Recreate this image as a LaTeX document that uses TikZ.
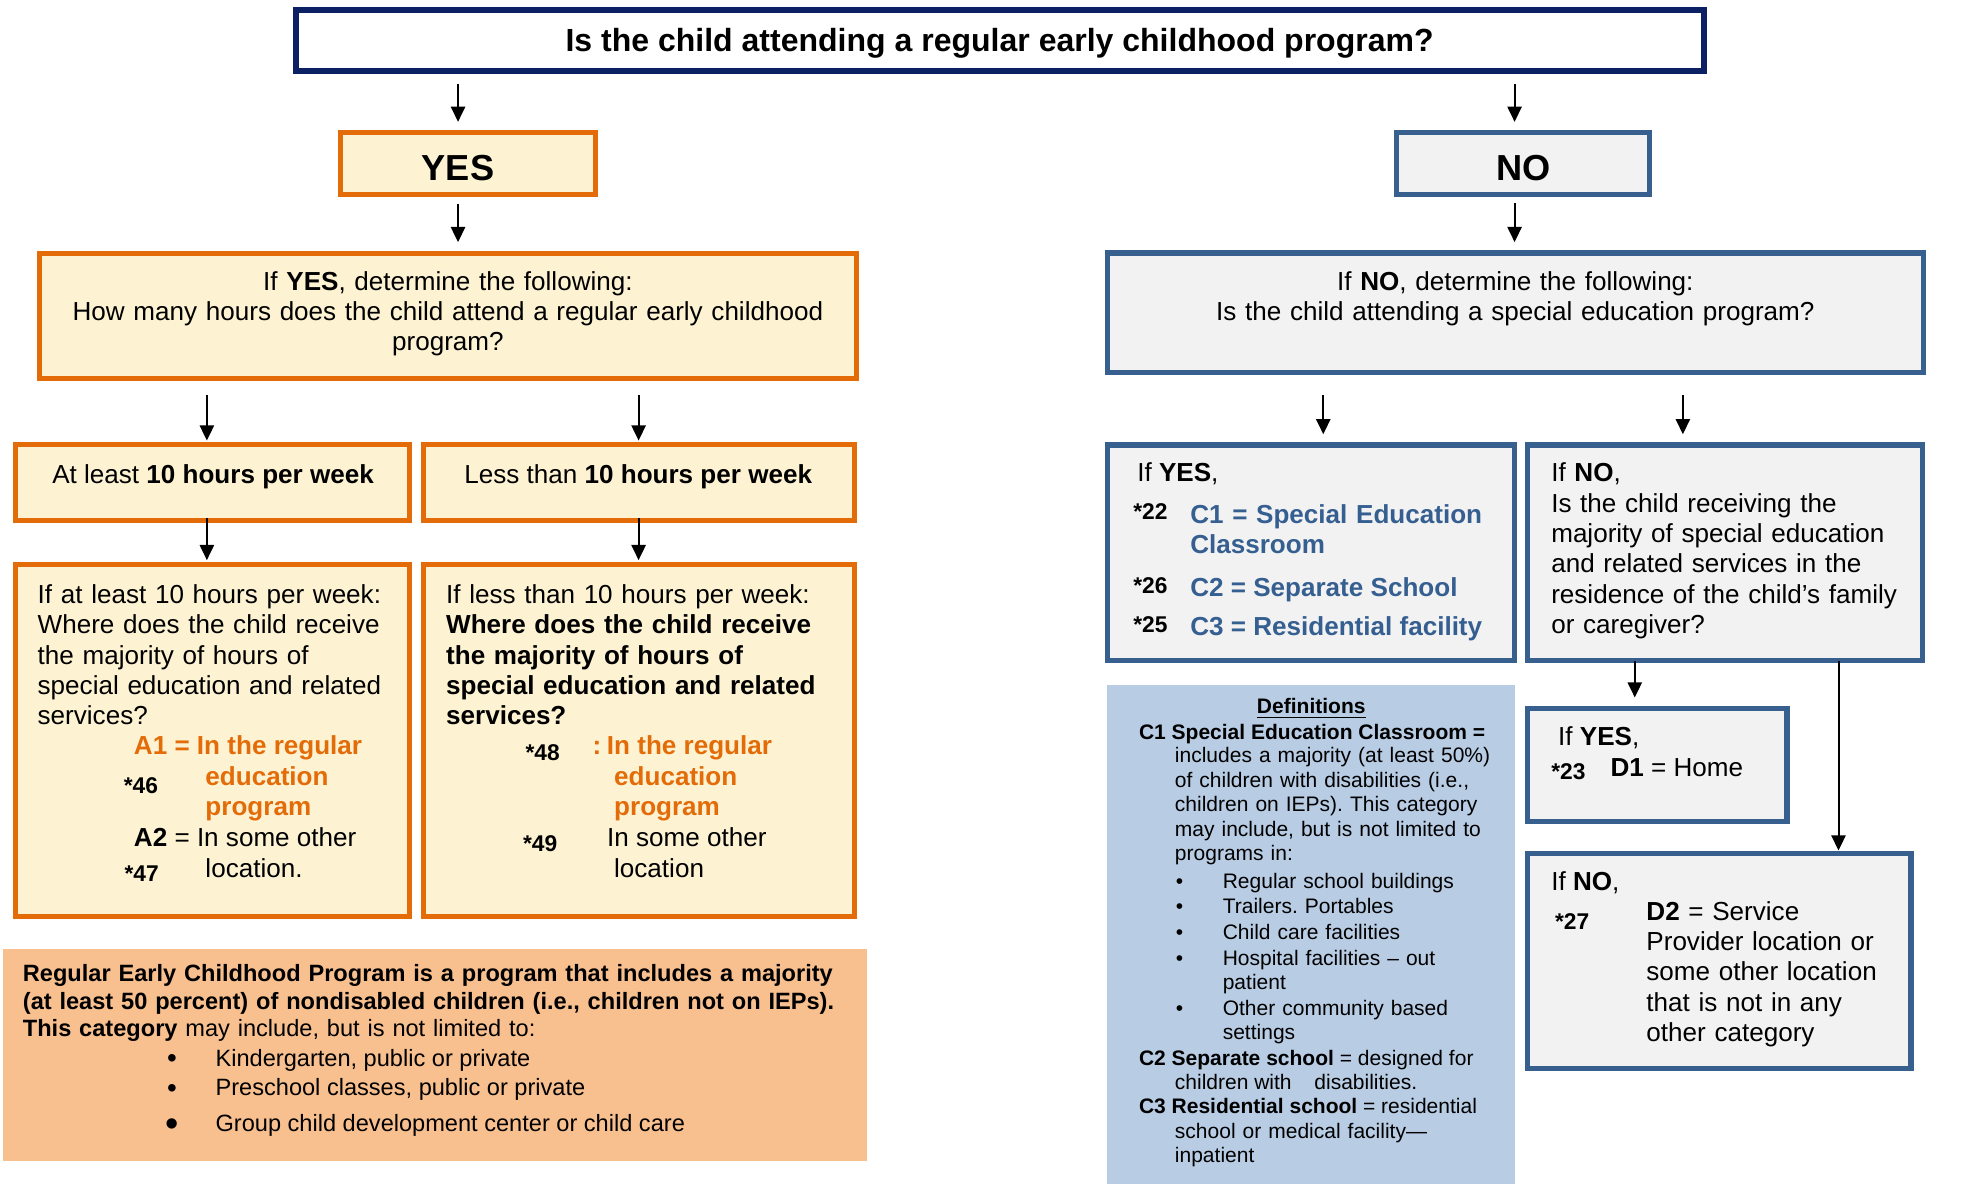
\documentclass[tikz,border=0pt]{standalone}
\usepackage{fontspec}
\setmainfont{Liberation Sans}
\usetikzlibrary{positioning,arrows.meta}

\definecolor{navyline}{HTML}{0B2163}
\definecolor{orline}{HTML}{E36C09}
\definecolor{orfill}{HTML}{FDF3D2}
\definecolor{blline}{HTML}{38608F}
\definecolor{blfill}{HTML}{F2F2F2}
\definecolor{bltext}{HTML}{365F91}
\definecolor{deffill}{HTML}{B8CCE4}
\definecolor{regfill}{HTML}{F9C08F}

\newcommand\bodyfont{\fontsize{10.3}{12}\selectfont}
\newcommand\boldfont{\fontsize{10.3}{12}\selectfont\bfseries}
\newcommand\deffont{\fontsize{8.3}{9.7}\selectfont}
\newcommand\regfont{\fontsize{9.32}{10.75}\selectfont}
\frenchspacing

\tikzset{
  qbox/.style={draw=navyline, line width=2.4pt, fill=white},
  ybox/.style={draw=orline, line width=2pt, fill=orfill},
  nbox/.style={draw=blline, line width=2pt, fill=blfill},
  boxsize/.style 2 args={minimum width=#1*0.5pt, minimum height=#2*0.5pt, inner sep=0pt},
  txt/.style={inner sep=0pt, anchor=base west, font=\bodyfont},
  ctxt/.style={inner sep=0pt, anchor=base, font=\bodyfont},
  otxt/.style={txt, text=orline, font=\boldfont},
  btxt/.style={txt, text=bltext, font=\boldfont},
  num/.style={inner sep=0pt, anchor=base west, font=\fontsize{9}{10}\selectfont\bfseries},
  dtxt/.style={inner sep=0pt, anchor=base west, font=\deffont},
  arr/.style={-{Triangle[length=6pt,width=5.6pt]}, line width=0.8pt},
}

\begin{document}
\begin{tikzpicture}[x=0.5pt, y=-0.5pt]
\useasboundingbox (0,0) rectangle (1568,937);

% boxes
\node[qbox, boxsize={1113}{48.3}] (q) at (790.5,32) {};
\node[ybox, boxsize={202}{49}] (yes) at (370,129.5) {};
\node[nbox, boxsize={199.5}{49}] (no) at (1203.7,129.5) {};
\node[ybox, boxsize={646}{99}] (yq) at (354,249.5) {};
\node[nbox, boxsize={645}{94.7}] (nq) at (1197.5,247.3) {};
\node[ybox, boxsize={311.5}{60}] (atl) at (168.2,381.6) {};
\node[ybox, boxsize={340}{60}] (lst) at (505,381.6) {};
\node[ybox, boxsize={311.5}{278}] (wa) at (168.2,585) {};
\node[ybox, boxsize={340}{278}] (wb) at (505,585) {};
\node[nbox, boxsize={321.5}{170.6}] (cy) at (1036.2,437) {};
\node[nbox, boxsize={312.2}{170.6}] (cn) at (1363.4,437) {};
\node[fill=deffill, boxsize={322}{394.6}] (defs) at (1036,738.7) {};
\node[nbox, boxsize={205}{88.7}] (d1) at (1309.8,604.6) {};
\node[nbox, boxsize={303}{170.6}] (d2) at (1358.8,759.5) {};
\node[fill=regfill, boxsize={683}{167.3}] (reg) at (343.7,833.7) {};

% top part
\node[ctxt, font=\fontsize{12.65}{14}\selectfont\bfseries] (qt) at (790,40.8) {Is the child attending a regular early childhood program?};
\node[ctxt, font=\fontsize{14.3}{16}\selectfont\bfseries] (yest) at (362,142.3) {YES};
\node[ctxt, font=\fontsize{14.3}{16}\selectfont\bfseries] (nott) at (1204,142.3) {NO};
\node[ctxt, text width=330pt, align=center] (yqt) at (354,229.2) {If \textbf{YES}, determine the following:\\How many hours does the child attend a regular early childhood\\program?};
\node[ctxt, text width=330pt, align=center] (nqt) at (1197.6,229.2) {If \textbf{NO}, determine the following:\\Is the child attending a special education program?};

% yes side
\node[ctxt] (atlt) at (168.4,382) {At least \textbf{10 hours per week}};
\node[ctxt] (lstt) at (504.4,382) {Less than \textbf{10 hours per week}};

\node[txt, text width=150pt, align=left] (wat) at (29.4,476.8) {If at least 10 hours per week:\\Where does the child receive\\the majority of hours of\\special education and related\\services?};
\node[otxt] (a1) at (105.5,596) {A1 = In the regular};
\node[otxt, text width=60pt, align=left] (a1b) at (162,620.4) {education\\program};
\node[txt] (a2) at (105.5,669) {\textbf{A2} = In some other};
\node[txt] (a2b) at (162,693.4) {location.};
\node[num] (n46) at (97.5,627) {*46};
\node[num] (n47) at (98,696.8) {*47};

\node[txt, text width=165pt, align=left] (wbt) at (352.2,476.8) {If less than 10 hours per week:\\{\bfseries Where does the child receive\\the majority of hours of\\special education and related\\services?}};
\node[num] (n48) at (415,600.7) {*48};
\node[otxt] (b1) at (468,596) {:\hspace{2.2pt}In the regular};
\node[otxt, text width=60pt, align=left] (b1b) at (485,620.4) {education\\program};
\node[num] (n49) at (413,673) {*49};
\node[txt] (b2) at (479.5,669) {In some other};
\node[txt] (b2b) at (485,693.4) {location};

\node[txt, text width=340pt, align=left, font=\regfont] (regt) at (17.7,776) {{\bfseries Regular Early Childhood Program is a program that includes a majority\\(at least 50 percent) of nondisabled children (i.e., children not on IEPs).\\This category} may include, but is not limited to:};
\foreach \t/\y/\s/\o [count=\i] in {{Kindergarten, public or private}/843/11/1, {Preschool classes, public or private}/866/11/1, {Group child development center or child care}/894.5/15/3.5} {
  \node[ctxt, font=\fontsize{\s}{12}\selectfont] (rb\i) at (136,\y+\o) {\textbullet};
  \node[txt, font=\regfont] (rt\i) at (170,\y) {\t};
}

% no side
\node[txt] (cyt) at (898.4,380.7) {If \textbf{YES},};
\node[num] (n22) at (895.3,410.4) {*22};
\node[btxt, text width=140pt, align=left] (c1) at (940.3,413.6) {C1 = Special Education\\Classroom};
\node[num] (n26) at (895.3,469) {*26};
\node[btxt] (c2) at (940.3,471.6) {C2 = Separate School};
\node[num] (n25) at (895.3,499.5) {*25};
\node[btxt] (c3) at (940.3,502.5) {C3 = Residential facility};

\node[txt, text width=150pt, align=left] (cnt) at (1225.6,380.7) {If \textbf{NO},\\Is the child receiving the\\majority of special education\\and related services in the\\residence of the child's family\\or caregiver?};

\node[txt] (d1t) at (1231,588.8) {If \textbf{YES},};
\node[num] (n23) at (1225.6,616) {*23};
\node[txt] (d1b) at (1272.4,613.8) {\textbf{D1} = Home};

\node[txt] (d2t) at (1225.6,703.4) {If \textbf{NO},};
\node[num] (n27) at (1228.6,734.5) {*27};
\node[txt, text width=110pt, align=left] (d2b) at (1300.8,727.1) {\textbf{D2} = Service\\Provider location or\\some other location\\that is not in any\\other category};

% definitions
\node[dtxt, anchor=base] (dh) at (1036.3,563.8) {\underline{\textbf{Definitions}}};
\node[dtxt] (dc1) at (899.8,584.3) {\textbf{C1 Special Education Classroom =}};
\node[dtxt, text width=140pt, align=left] (dc1b) at (928.2,602.8) {includes a majority (at least 50\%)\\of children with disabilities (i.e.,\\children on IEPs). This category\\may include, but is not limited to\\programs in:};
\foreach \t/\y [count=\i] in {{Regular school buildings}/702, {Trailers. Portables}/721.8, {Child care facilities}/742.4, {Hospital facilities -- out\\patient}/762.7, {Other community based\\settings}/802.2} {
  \node[dtxt, anchor=base] (db\i) at (932.2,\y) {\textbullet};
  \node[dtxt, text width=110pt, align=left] (dt\i) at (966,\y) {\t};
}
\node[dtxt] (dc2) at (899.8,841.7) {\textbf{C2 Separate school} = designed for};
\node[dtxt] (dc2b) at (928.2,860.9) {children with\hspace{9pt}disabilities.};
\node[dtxt] (dc3) at (899.8,879.9) {\textbf{C3 Residential school} = residential};
\node[dtxt, text width=140pt, align=left] (dc3b) at (928.2,899.6) {school or medical facility---\\inpatient};

% arrows
\coordinate (xa) at (362,0);
\coordinate (xb) at (1197,0);
\coordinate (xc) at (163.5,0);
\coordinate (xd) at (504.7,0);
\coordinate (xe) at (1045.8,0);
\coordinate (xf) at (1330,0);
\coordinate (xg) at (1292,0);
\coordinate (xh) at (1453,0);

\draw[arr, shorten <=3.75pt, shorten >=3.35pt] (xa |- q.south) -- (xa |- yes.north);
\draw[arr, shorten <=3.75pt, shorten >=3.35pt] (xb |- q.south) -- (xb |- no.north);
\draw[arr, shorten <=2.5pt, shorten >=3.3pt] (xa |- yes.south) -- (xa |- yq.north);
\draw[arr, shorten <=2.4pt, shorten >=3.3pt] (xb |- no.south) -- (xb |- nq.north);
\draw[arr, shorten <=5.5pt, shorten >=0.7pt] (xc |- yq.south) -- (xc |- atl.north);
\draw[arr, shorten <=5.5pt, shorten >=0.7pt] (xd |- yq.south) -- (xd |- lst.north);
\draw[arr, shorten <=7.8pt, shorten >=3.25pt] (xe |- nq.south) -- (xe |- cy.north);
\draw[arr, shorten <=7.8pt, shorten >=3.25pt] (xf |- nq.south) -- (xf |- cn.north);
\draw[arr, shorten <=-2pt, shorten >=0.65pt] (xc |- atl.south) -- (xc |- wa.north);
\draw[arr, shorten <=-2pt, shorten >=0.65pt] (xd |- lst.south) -- (xd |- wb.north);
\draw[arr, shorten <=-1pt, shorten >=3.5pt] (xg |- cn.south) -- (xg |- d1.north);
\draw[arr, shorten <=-1pt] (xh |- cn.south) -- (xh |- d2.north);

\end{tikzpicture}
\end{document}
